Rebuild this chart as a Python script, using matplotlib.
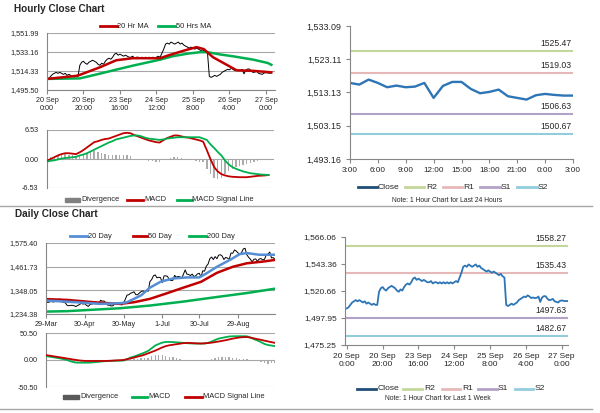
import matplotlib
matplotlib.use("Agg")
import matplotlib.pyplot as plt
from matplotlib.lines import Line2D
from matplotlib.patches import Rectangle
import numpy as np
import pandas as pd

plt.rcParams['font.family'] = ['Liberation Sans', 'DejaVu Sans']

# ---------------- DATA ----------------
hourly_close = [
    1506, 1507, 1509, 1511, 1512, 1513, 1512, 1513,
    1512, 1511, 1512, 1510, 1511, 1510, 1509, 1510, 1509, 1509,
    1520, 1523, 1524, 1522, 1521, 1523,
    1524, 1525, 1524, 1523, 1521, 1520,
    1522, 1521, 1524, 1526,
    1527, 1526, 1528, 1531, 1532,
    1530, 1531, 1530, 1529, 1530, 1529,
    1528, 1528, 1529, 1527, 1528, 1528, 1527, 1528, 1527, 1528, 1527, 1528, 1527, 1528, 1527, 1528, 1529, 1528,
    1532, 1536, 1541,
    1542, 1541, 1543, 1542, 1541, 1542, 1543, 1541, 1542,
    1540, 1539, 1538, 1537, 1538, 1537, 1536, 1537,
    1536, 1535, 1534, 1535, 1533, 1532,
    1509,
    1508, 1509, 1510, 1509, 1510, 1511,
    1513, 1514, 1515,
    1516.0, 1515.5, 1517.0, 1516.0, 1514.7, 1515.2, 1514.7, 1514.9, 1516.0, 1511.5, 1515.1,
    1516.3, 1516.3, 1514.2, 1512.9, 1513.3, 1514.0, 1512.0, 1511.5, 1511.0, 1512.3, 1512.7,
    1512.4, 1512.2, 1512.2,
]
hourly_tick_labels = ['20 Sep\n0:00', '20 Sep\n20:00', '23 Sep\n16:00', '24 Sep\n12:00',
                      '25 Sep\n8:00', '26 Sep\n4:00', '27 Sep\n0:00']

ma20_hr_idx = [0, 16, 18, 29, 38, 47, 62, 66, 75, 82, 86, 91, 99, 104, 113, 123]
ma20_hr_val = [1506.5, 1509.5, 1510.5, 1518, 1525, 1527, 1527, 1529.5, 1534.5, 1538, 1536,
               1528, 1520, 1515, 1514.5, 1513]
ma50_hr_idx = [0, 18, 29, 38, 47, 62, 69, 77, 84, 88, 95, 102, 113, 121, 123]
ma50_hr_val = [1506.5, 1507, 1511.7, 1515.7, 1519.6, 1525.6, 1529, 1531.5, 1533, 1533,
               1530.7, 1528.9, 1525.6, 1522.3, 1520.5]

hr_macd = [-0.4, 0.0, 0.4, 0.8, 1.1, 1.3, 1.3, 1.2, 1.1, 1.5, 2.0, 2.6, 3.2, 3.8, 4.0, 4.3,
           4.5, 4.6, 4.9, 5.2, 5.5, 5.8, 5.9, 5.8, 5.4, 5.1, 4.8, 4.5, 4.2, 4.0, 3.8, 3.7,
           4.2, 4.7, 5.0, 5.3, 5.3, 5.1, 4.9, 4.8, 4.6, 4.4, 4.2, 3.9, 2.0, 0.0, -1.8, -2.8,
           -3.4, -3.7, -3.9, -4.0, -4.05, -4.1, -4.1, -4.1, -4.0, -3.9, -3.8, -3.75, -3.7, -3.6]
hr_signal = [-0.6, -0.4, -0.3, -0.1, 0.1, 0.2, 0.3, 0.4, 0.5, 0.8, 1.0, 1.3, 1.7, 2.1, 2.5, 2.9,
             3.3, 3.7, 4.0, 4.4, 4.6, 4.8, 5.0, 5.2, 5.3, 5.3, 5.1, 4.8, 4.6, 4.5, 4.4, 4.3,
             4.4, 4.6, 4.7, 4.8, 4.9, 4.9, 4.9, 4.9, 4.9, 4.9, 4.9, 4.6, 4.3, 3.3, 2.5, 1.6,
             0.8, -0.3, -1.2, -1.8, -2.2, -2.5, -2.8, -3.0, -3.2, -3.3, -3.4, -3.5, -3.55, -3.6]

day24_tick_labels = ['3:00', '6:00', '9:00', '12:00', '15:00', '18:00', '21:00', '0:00', '3:00']
hr_levels = {'R2': 1525.47, 'R1': 1519.03, 'S1': 1506.63, 'S2': 1500.67}
wk_levels = {'R2': 1558.27, 'R1': 1535.43, 'S1': 1497.63, 'S2': 1482.67}

daily_close = [
    1295,
    1290, 1292, 1295, 1292, 1294,
    1298, 1303, 1306, 1293, 1290,
    1288, 1276, 1274, 1276, 1276,
    1274, 1270, 1276, 1279, 1286,
    1282, 1284,
    1276, 1271, 1280,
    1282, 1285, 1284, 1283, 1286,
    1300, 1296, 1297, 1286, 1277,
    1277, 1273, 1274, 1282, 1284,
    1283, 1280, 1278, 1287, 1305,
    1325, 1327, 1334, 1337, 1341,
    1327, 1327, 1335, 1342, 1345,
    1342, 1346, 1344, 1390, 1400,
    1418, 1422, 1408, 1411, 1409,
    1385, 1417, 1418, 1415, 1399,
    1395, 1396, 1420, 1411, 1415,
    1413, 1406, 1425, 1446, 1426,
    1424, 1419, 1426, 1414, 1418,
    1427, 1430, 1413, 1442, 1440,
    1464, 1474, 1500, 1508, 1496,
    1510, 1500, 1517, 1519, 1513,
    1496, 1506, 1503, 1497, 1527,
    1526, 1542, 1537, 1528, 1520,
    1529, 1547, 1550, 1519, 1507,
    1498, 1485, 1497, 1499, 1488,
    1498, 1501, 1494, 1497, 1517,
    1522, 1532, 1504, 1505, 1497,
]
daily_tick_dates = ['2019-03-29', '2019-04-30', '2019-05-30', '2019-07-01', '2019-07-30', '2019-08-29']
daily_tick_labels = ['29-Mar', '30-Apr', '30-May', '1-Jul', '30-Jul', '29-Aug']

ma20_d_idx = [0, 17, 31, 42, 46, 54, 59, 65, 72, 80, 87, 91, 97, 105, 110, 114, 121, 130]
ma20_d_val = [1299, 1291, 1283, 1286, 1291, 1324, 1361, 1389, 1405, 1410, 1410, 1429, 1461,
              1497, 1522, 1527, 1519, 1519]
ma50_d_idx = [0, 12, 27, 42, 50, 59, 69, 78, 88, 97, 106, 114, 123, 130]
ma50_d_val = [1306, 1302, 1291, 1283, 1291, 1307, 1335, 1361, 1389, 1432, 1461, 1478, 1486, 1494]
ma200_d_idx = [0, 12, 27, 42, 59, 78, 97, 114, 130]
ma200_d_val = [1246, 1248, 1255, 1262, 1275, 1294, 1316, 1335, 1356]

d_macd = [7.4, 6.3, 5.2, 4.1, 3.0, 1.5, 0, -2.5, -4.3, -5, -5, -5, -5, -4.7, -4, -3.4, -2.6,
          -2, -1.8, -1.6, -1.4, -1.2, -1, 1.5, 4.5, 6.5, 9, 11.5, 14, 17, 22, 27, 30, 32.5,
          33.8, 33.8, 33.5, 33, 32.6, 32, 31.5, 31, 30.8, 30.8, 30.8, 30.8, 32, 34.5, 37.5,
          40, 41.5, 42.8, 44, 44.4, 44.5, 44.5, 44.5, 44.4, 42, 39, 36.5, 33.5, 30, 28, 27, 25.9]
d_signal = [9.2, 8.1, 7.1, 6, 5, 3.9, 2.8, 1.7, 0.6, -0.4, -1.2, -1.7, -1.8, -1.8, -1.8, -1.8,
            -1.8, -1.8, -1.5, -1.1, -0.7, -0.4, 0, 1.5, 3, 4.5, 6.5, 8, 10, 12.5, 15, 17.5,
            20.5, 23.5, 26, 27.5, 28.5, 29.5, 30.5, 31.5, 32, 31.8, 31.4, 31, 30.8, 31.2,
            31.8, 32.4, 33.5, 34.6, 35.8, 37, 38.5, 40, 41.2, 42.2, 42.8, 43, 42, 40.5, 39,
            37.8, 36.2, 34.8, 33.4, 32]

# ---------------- STYLE ----------------
W, H = 600, 413
fig = plt.figure(figsize=(W / 100, H / 100), dpi=100)
GRAY = '#a6a6a6'
AXC = '#868686'
RED = '#c00000'
GRN = '#00b050'
BLUE = '#2e75b6'
TXT = '#262626'
LVC = {'R2': '#c3d69b', 'R1': '#e6b9b8', 'S1': '#b3a2c7', 'S2': '#93cddd'}


def add_ax(l, t, r, b):
    return fig.add_axes([l / W, 1 - b / H, (r - l) / W, (b - t) / H])


def fy(y):
    return 1 - y / H


def leg_line(x0, x1, y, color, lw=2.0):
    fig.add_artist(Line2D([x0 / W, x1 / W], [fy(y), fy(y)], color=color, lw=lw,
                          transform=fig.transFigure))


def leg_patch(x0, x1, y, color):
    fig.add_artist(Rectangle((x0 / W, fy(y + 2)), (x1 - x0) / W, 4 / H, color=color,
                             transform=fig.transFigure))


def leg_text(x, y, s, size=5.4):
    fig.text(x / W, fy(y), s, ha='left', va='center', fontsize=size, color=TXT)


def style_grid_ax(ax, size=5.2):
    for s in ['top', 'right']:
        ax.spines[s].set_visible(False)
    ax.spines['left'].set_color(AXC)
    ax.spines['bottom'].set_color(AXC)
    ax.spines['left'].set_linewidth(0.8)
    ax.spines['bottom'].set_linewidth(0.8)
    ax.grid(axis='y', color=GRAY, lw=0.8)
    ax.set_axisbelow(True)
    ax.tick_params(axis='y', length=0, labelsize=size, pad=6, labelcolor=TXT)
    ax.tick_params(axis='x', length=3, color=AXC, labelsize=size, pad=3, labelcolor=TXT)


def style_plain_ax(ax, ysize, xsize):
    for s in ['top', 'right']:
        ax.spines[s].set_visible(False)
    ax.spines['left'].set_color(AXC)
    ax.spines['bottom'].set_color(AXC)
    ax.spines['left'].set_linewidth(0.8)
    ax.spines['bottom'].set_linewidth(0.8)
    ax.tick_params(axis='y', length=3, color=AXC, labelsize=ysize, pad=3, labelcolor=TXT)
    ax.tick_params(axis='x', length=3, color=AXC, labelsize=xsize, pad=3, labelcolor=TXT)


def fmt(v):
    return '{:,.2f}'.format(v)


# ---------------- HOURLY PRICE ----------------
hx = np.arange(len(hourly_close))
ax = add_ax(47, 33, 275, 90)
ax.plot(hx, hourly_close, color='black', lw=0.7)
ax.plot(ma50_hr_idx, ma50_hr_val, color=GRN, lw=1.8)
ax.plot(ma20_hr_idx, ma20_hr_val, color=RED, lw=1.8)
ax.set_xlim(0, 125)
yt = [1495.50, 1514.33, 1533.16, 1551.99]
ax.set_ylim(yt[0], yt[-1])
ax.set_yticks(yt)
ax.set_yticklabels([fmt(v) for v in yt])
ax.set_xticks(np.arange(0, 121, 20))
ax.set_xticklabels(hourly_tick_labels, linespacing=1.2)
style_grid_ax(ax)
ax.tick_params(axis='x', labelsize=5.2, pad=2)

fig.text(14 / W, fy(9), 'Hourly Close Chart', fontsize=7.2, fontweight='bold', va='center',
         color=TXT)
leg_line(100, 117, 26, RED)
leg_text(117, 26, '20 Hr MA')
leg_line(158, 175, 26, GRN)
leg_text(176, 26, '50 Hrs MA')

# ---------------- HOURLY MACD ----------------
mx = np.arange(0, 2 * len(hr_macd), 2)
ax = add_ax(47, 130, 274, 188)
div = np.array(hr_macd) - np.array(hr_signal)
ax.bar(mx, div, width=0.8, color='#ababab', zorder=2)
ax.plot(mx, hr_macd, color=RED, lw=1.3, zorder=3)
ax.plot(mx, hr_signal, color=GRN, lw=1.3, zorder=3)
ax.set_xlim(0, 125)
yt = [-6.53, 0.0, 6.53]
ax.set_ylim(yt[0], yt[-1])
ax.set_yticks(yt)
ax.set_yticklabels(['%.2f' % v for v in yt])
ax.set_xticks([])
style_grid_ax(ax)
ax.spines['bottom'].set_visible(False)

leg_patch(65, 80, 200, '#808080')
leg_text(81, 200, 'Divergence')
leg_line(127, 143, 200, RED)
leg_text(144, 200, 'MACD')
leg_line(177, 192, 200, GRN)
leg_text(192, 200, 'MACD Signal Line')

# ---------------- LAST 24 HOURS ----------------
d24 = hourly_close[-25:]
ax = add_ax(350, 26, 573, 159)
for k in ['R2', 'R1', 'S1', 'S2']:
    ax.axhline(hr_levels[k], color=LVC[k], lw=1.5)
    ax.text(23.85, hr_levels[k] + 1.0, '%.2f' % hr_levels[k], ha='right', va='bottom',
            fontsize=6.2, color=TXT)
ax.plot(np.arange(len(d24)), d24, color=BLUE, lw=1.7)
ax.set_xlim(0, 24)
yt = [1493.16, 1503.15, 1513.13, 1523.11, 1533.09]
ax.set_ylim(yt[0], yt[-1])
ax.set_yticks(yt)
ax.set_yticklabels([fmt(v) for v in yt])
ax.set_xticks(np.arange(0, 25, 3))
ax.set_xticklabels(day24_tick_labels)
style_plain_ax(ax, 6.4, 5.9)

LG = 6.1
leg_line(358, 377, 187, '#1f4e79')
leg_text(378, 187, 'Close', LG)
leg_line(405, 424, 187, LVC['R2'])
leg_text(426, 187, 'R2', LG)
leg_line(443, 462, 187, LVC['R1'])
leg_text(463, 187, 'R1', LG)
leg_line(480, 500, 187, LVC['S1'])
leg_text(501, 187, 'S1', LG)
leg_line(517, 537, 187, LVC['S2'])
leg_text(538, 187, 'S2', LG)
fig.text(447 / W, fy(201), 'Note: 1 Hour Chart for Last 24 Hours', ha='center', va='center',
         fontsize=4.9, color=TXT)

fig.add_artist(Line2D([0, 592 / W], [fy(206), fy(206)], color='#a6a6a6', lw=1,
                      transform=fig.transFigure))

# ---------------- DAILY PRICE ----------------
dates = pd.bdate_range('2019-03-29', periods=len(daily_close))
dtick = [dates.get_loc(pd.Timestamp(d)) for d in daily_tick_dates]
dx = np.arange(len(daily_close))
ax = add_ax(46, 243, 275, 314)
ax.plot(dx, daily_close, color='black', lw=0.7)
ax.plot(ma200_d_idx, ma200_d_val, color=GRN, lw=1.8)
ax.plot(ma50_d_idx, ma50_d_val, color=RED, lw=1.8)
ax.plot(ma20_d_idx, ma20_d_val, color='#558ed5', lw=1.8)
ax.set_xlim(0, 130)
yt = [1234.38, 1348.05, 1461.73, 1575.40]
ax.set_ylim(yt[0], yt[-1])
ax.set_yticks(yt)
ax.set_yticklabels([fmt(v) for v in yt])
ax.set_xticks(dtick)
ax.set_xticklabels(daily_tick_labels)
style_grid_ax(ax)
ax.tick_params(axis='x', labelsize=5.2, pad=2)

fig.text(15 / W, fy(214), 'Daily Close Chart', fontsize=7.2, fontweight='bold', va='center',
         color=TXT)
leg_line(70, 87, 236, '#558ed5')
leg_text(88, 236, '20 Day')
leg_line(133, 147, 236, RED)
leg_text(148, 236, '50 Day')
leg_line(189, 206, 236, GRN)
leg_text(207, 236, '200 Day')

# ---------------- DAILY MACD ----------------
dmx = np.arange(0, 2 * len(d_macd), 2)
ax = add_ax(46, 333, 275, 387)
ddiv = np.array(d_macd) - np.array(d_signal)
ax.bar(dmx, ddiv, width=0.8, color='#ababab', zorder=2)
ax.plot(dmx, d_macd, color=GRN, lw=1.3, zorder=3)
ax.plot(dmx, d_signal, color=RED, lw=1.3, zorder=3)
ax.set_xlim(0, 130)
yt = [-50.5, 0.0, 50.5]
ax.set_ylim(yt[0], yt[-1])
ax.set_yticks(yt)
ax.set_yticklabels(['%.2f' % v for v in yt])
ax.set_xticks([])
style_grid_ax(ax)
ax.spines['bottom'].set_visible(False)

leg_patch(63, 79, 397, '#595959')
leg_text(80, 397, 'Divergence')
leg_line(132, 147, 397, GRN)
leg_text(148, 397, 'MACD')
leg_line(185, 202, 397, RED)
leg_text(203, 397, 'MACD Signal Line')

# ---------------- LAST 1 WEEK ----------------
ax = add_ax(345, 237, 568, 345)
for k in ['R2', 'R1', 'S1', 'S2']:
    ax.axhline(wk_levels[k], color=LVC[k], lw=1.5)
    ax.text(122.5, wk_levels[k] + 3.0, '%.2f' % wk_levels[k], ha='right', va='bottom',
            fontsize=6.2, color=TXT)
ax.plot(hx, hourly_close, color=BLUE, lw=1.3)
ax.set_xlim(-1, 123.5)
yt = [1475.25, 1497.95, 1520.66, 1543.36, 1566.06]
ax.set_ylim(yt[0], yt[-1])
ax.set_yticks(yt)
ax.set_yticklabels([fmt(v) for v in yt])
ax.set_xticks(np.arange(0, 121, 20))
ax.set_xticklabels(hourly_tick_labels, linespacing=1.2)
style_plain_ax(ax, 6.0, 6.0)

leg_line(357, 376, 389, '#1f4e79')
leg_text(378, 389, 'Close', LG)
leg_line(403, 422, 389, LVC['R2'])
leg_text(424, 389, 'R2', LG)
leg_line(442, 460, 389, LVC['R1'])
leg_text(462, 389, 'R1', LG)
leg_line(478, 497, 389, LVC['S1'])
leg_text(498, 389, 'S1', LG)
leg_line(515, 533, 389, LVC['S2'])
leg_text(535, 389, 'S2', LG)
fig.text(438 / W, fy(398), 'Note: 1 Hour Chart for Last 1 Week', ha='center', va='center',
         fontsize=4.9, color=TXT)

fig.add_artist(Line2D([0, 592 / W], [fy(409), fy(409)], color='#a6a6a6', lw=1,
                      transform=fig.transFigure))

fig.savefig('out.png', dpi=100, facecolor='white')
